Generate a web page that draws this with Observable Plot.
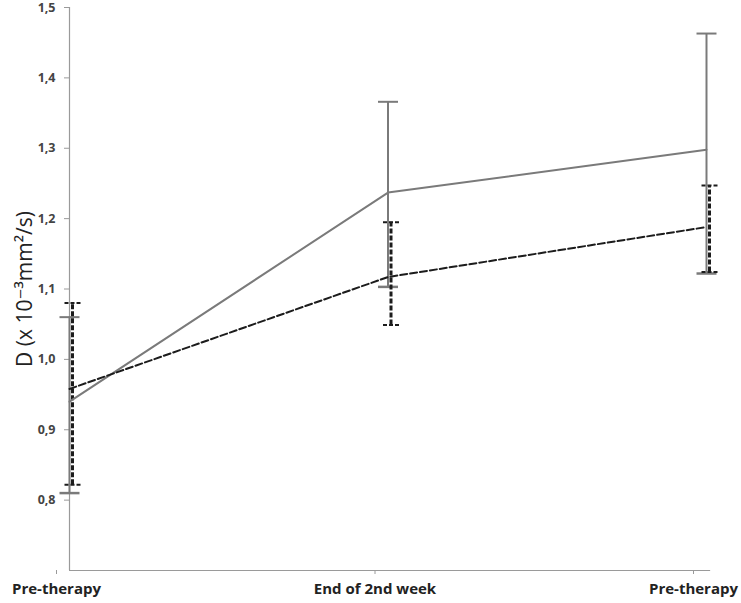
<!DOCTYPE html>
<html>
<head>
<meta charset="utf-8">
<script src="https://cdn.jsdelivr.net/npm/d3@7"></script>
<script src="https://cdn.jsdelivr.net/npm/@observablehq/plot@0.6"></script>
<style>
  html, body { margin: 0; padding: 0; background: #fff; }
  #chart svg { display: block; }
</style>
</head>
<body>
<div id="chart"></div>
<script>
const categories = ["Pre-therapy", "End of 2nd week", "Pre-therapy"];
const yTicks = [0.8, 0.9, 1.0, 1.1, 1.2, 1.3, 1.4, 1.5];

const solidMean  = [0.94, 1.237, 1.298];
const solidUpper = [1.06, 1.366, 1.463];
const solidLower = [0.81, 1.103, 1.122];

const dashedMean  = [0.958, 1.117, 1.188];
const dashedUpper = [1.08, 1.195, 1.247];
const dashedLower = [0.822, 1.049, 1.124];

const solid = categories.map((c, i) => ({i, mean: solidMean[i], hi: solidUpper[i], lo: solidLower[i]}));
const dashed = categories.map((c, i) => ({i, mean: dashedMean[i], hi: dashedUpper[i], lo: dashedLower[i]}));

// horizontal-line symbol used for error bar caps
const capSymbol = {
  draw(ctx, size) {
    const r = Math.sqrt(size / Math.PI);
    ctx.moveTo(-r, 0);
    ctx.lineTo(r, 0);
  }
};

const gray = "#7a7a7a";
const dark = "#1c1c1c";

const chart = Plot.plot({
  width: 741,
  height: 603,
  marginLeft: 69,
  marginRight: 35,
  marginTop: 7,
  marginBottom: 33,
  style: {fontFamily: "'Open Sans', 'DejaVu Sans', sans-serif", background: "#fff", color: "#333"},
  x: {domain: [0, 2]},
  y: {domain: [0.7, 1.5]},
  marks: [
    // axes lines
    Plot.ruleX([0], {y1: 0.7, y2: 1.5, stroke: "#9a9a9a", strokeWidth: 1.2}),
    Plot.ruleY([0.7], {x1: 0, x2: 2.013, stroke: "#9a9a9a", strokeWidth: 1.2}),
    Plot.axisY({
      ticks: yTicks,
      tickFormat: d => d.toFixed(1).replace(".", ","),
      tickSize: 5,
      tickPadding: 9,
      stroke: "#9a9a9a",
      fontSize: 12.5,
      fontWeight: "bold",
      fill: "#444",
      label: null
    }),
    Plot.axisY({
      ticks: [],
      label: "D (x 10⁻³mm²/s)",
      labelAnchor: "center",
      labelOffset: 52,
      labelArrow: "none",
      fontSize: 21,
      fill: "#222"
    }),
    Plot.axisX({
      ticks: [0, 1, 2],
      tickFormat: i => categories[i],
      tickSize: 4,
      tickPadding: 9,
      stroke: "#9a9a9a",
      fontSize: 15,
      fontWeight: "bold",
      fill: "#222",
      dx: -13,
      label: null
    }),
    // solid series error bars
    Plot.ruleX(solid, {x: "i", y1: "lo", y2: "hi", stroke: gray, strokeWidth: 2}),
    Plot.dot(solid, {x: "i", y: "hi", symbol: capSymbol, r: 10, stroke: gray, strokeWidth: 2, fill: "none"}),
    Plot.dot(solid, {x: "i", y: "lo", symbol: capSymbol, r: 10, stroke: gray, strokeWidth: 2.5, fill: "none"}),
    // dashed series error bars
    Plot.ruleX(dashed, {x: "i", y1: "lo", y2: "hi", dx: 3, stroke: dark, strokeWidth: 3, strokeDasharray: "5,2"}),
    Plot.dot(dashed, {x: "i", y: "hi", dx: 3, symbol: capSymbol, r: 8, stroke: dark, strokeWidth: 2, strokeDasharray: "4,2", fill: "none"}),
    Plot.dot(dashed, {x: "i", y: "lo", dx: 3, symbol: capSymbol, r: 8, stroke: dark, strokeWidth: 2, strokeDasharray: "4,2", fill: "none"}),
    // lines
    Plot.line(solid, {x: "i", y: "mean", stroke: gray, strokeWidth: 2}),
    Plot.line(dashed, {x: "i", y: "mean", stroke: dark, strokeWidth: 2, strokeDasharray: "7,3"})
  ]
});

document.getElementById("chart").appendChild(chart);
</script>
</body>
</html>
